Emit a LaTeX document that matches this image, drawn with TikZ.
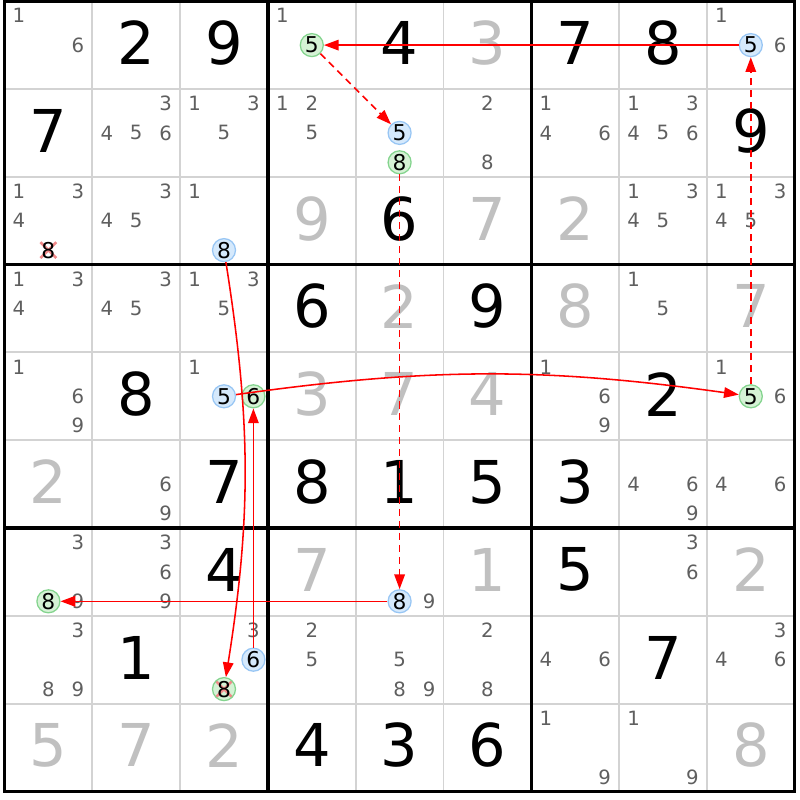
\documentclass[tikz,border=0pt]{standalone}
\usepackage{fontspec}
\setmainfont{DejaVu Sans}
\usetikzlibrary{arrows.meta}

\definecolor{gridgray}{HTML}{D3D3D3}
\definecolor{solvedgray}{HTML}{C0C0C0}
\definecolor{candgray}{HTML}{5F5F5F}
\definecolor{bluefill}{HTML}{D5E9FC}
\definecolor{bluering}{HTML}{98C6F4}
\definecolor{greenfill}{HTML}{D5F2D5}
\definecolor{greenring}{HTML}{84D48E}
\definecolor{xred}{HTML}{F08A8A}

\newcommand{\cand}[4][cand]{%
  \pgfmathsetmacro\candx{#3-0.835+0.335*mod(#4-1,3)}%
  \pgfmathsetmacro\candy{#2-0.835+0.335*div(#4-1,3)}%
  \node[#1] (r#2c#3n#4) at (\candx,\candy) {#4};}

\begin{document}
\begin{tikzpicture}[
		x=2.195cm, y=-2.195cm,
		gridline/.style={gridgray, line width=1.4pt},
		boxline/.style={black, line width=2.5pt},
		given/.style={font=\fontsize{42}{46}\selectfont, inner sep=0pt, yshift=1.5pt},
		solved/.style={given, text=solvedgray},
		cand/.style={circle, inner sep=0pt, minimum size=0.575cm, font=\fontsize{14}{16}\selectfont, text=candgray},
		bluecand/.style={cand, text=black, font=\fontsize{15.5}{17}\selectfont, draw=bluering, fill=bluefill, line width=0.9pt},
		greencand/.style={cand, text=black, font=\fontsize{15.5}{17}\selectfont, draw=greenring, fill=greenfill, line width=0.9pt},
		crossed/.style={path picture={
			\draw[xred, line width=1.8pt]
				([shift={(-0.09,-0.09)}]path picture bounding box.center) -- ([shift={(0.09,0.09)}]path picture bounding box.center)
				([shift={(-0.09,0.09)}]path picture bounding box.center) -- ([shift={(0.09,-0.09)}]path picture bounding box.center);}},
		elim/.style={cand, text=black, font=\fontsize{15.5}{17}\selectfont, fill=white, crossed},
		link/.style={red, line width=1.1pt, -{Triangle[length=10.5pt, width=7.5pt]}},
		weak/.style={link, dash pattern=on 5pt off 3.5pt},
	]
		\path[use as bounding box, fill=white] (-0.0513,-0.0137) rectangle (9.0604,9.0979);
	
		\foreach \i in {1,2,4,5,7,8} {
			\draw[gridline] (\i,0) -- (\i,9);
			\draw[gridline] (0,\i) -- (9,\i);
		}
		\foreach \i in {3,6} {
			\draw[boxline] (\i,0) -- (\i,9);
			\draw[boxline] (0,\i) -- (9,\i);
		}
		\draw[boxline] (0,0) rectangle (9,9);
		
		\foreach \row/\col/\d in {1/2/2, 1/3/9, 1/5/4, 1/7/7, 1/8/8, 2/1/7, 2/9/9, 3/5/6, 4/4/6, 4/6/9,
				5/2/8, 5/8/2, 6/3/7, 6/4/8, 6/5/1, 6/6/5, 6/7/3, 7/3/4, 7/7/5, 8/2/1, 8/8/7,
				9/4/4, 9/5/3, 9/6/6}
			\node[given] (g\row\col) at (\col-0.5,\row-0.5) {\d};
		\foreach \row/\col/\d in {1/6/3, 3/4/9, 3/6/7, 3/7/2, 4/5/2, 4/7/8, 4/9/7, 5/4/3, 5/5/7, 5/6/4,
				6/1/2, 7/4/7, 7/6/1, 7/9/2, 9/1/5, 9/2/7, 9/3/2, 9/9/8}
			\node[solved] (g\row\col) at (\col-0.5,\row-0.5) {\d};
		
		\foreach \row/\col/\ks in {1/1/{1,6}, 1/4/{1}, 1/9/{1,6},
				2/2/{3,4,5,6}, 2/3/{1,3,5}, 2/4/{1,2,5}, 2/6/{2,8}, 2/7/{1,4,6}, 2/8/{1,3,4,5,6},
				3/1/{1,3,4}, 3/2/{3,4,5}, 3/3/{1}, 3/8/{1,3,4,5}, 3/9/{1,3,4,5},
				4/1/{1,3,4}, 4/2/{3,4,5}, 4/3/{1,3,5}, 4/8/{1,5},
				5/1/{1,6,9}, 5/3/{1}, 5/7/{1,6,9}, 5/9/{1,6},
				6/2/{6,9}, 6/8/{4,6,9}, 6/9/{4,6},
				7/1/{3,9}, 7/2/{3,6,9}, 7/5/{9}, 7/8/{3,6},
				8/1/{3,8,9}, 8/3/{3}, 8/4/{2,5}, 8/5/{5,8,9}, 8/6/{2,8}, 8/7/{4,6}, 8/9/{3,4,6},
				9/7/{1,9}, 9/8/{1,9}}
			\foreach \k in \ks {\cand{\row}{\col}{\k}};
		
		\cand[greencand]{1}{4}{5}
		\cand[bluecand]{1}{9}{5}
		\cand[bluecand]{2}{5}{5}
		\cand[greencand]{2}{5}{8}
		\cand[elim]{3}{1}{8}
		\cand[bluecand]{3}{3}{8}
		\cand[bluecand]{5}{3}{5}
		\cand[greencand]{5}{3}{6}
		\cand[greencand]{5}{9}{5}
		\cand[greencand]{7}{1}{8}
		\cand[bluecand]{7}{5}{8}
		\cand[bluecand]{8}{3}{6}
		\cand[greencand, crossed]{8}{3}{8}
		
		\draw[link] (r1c9n5) -- (r1c4n5);
		\draw[weak] (r1c4n5) -- (r2c5n5);
		\draw[weak] (r2c5n8) -- (r7c5n8);
		\draw[link] (r7c5n8) -- (r7c1n8);
		\draw[link] (r3c3n8) to[bend left=9] (r8c3n8);
		\draw[link] (r8c3n6) -- (r5c3n6);
		\draw[link] (r5c3n5) to[bend left=8] (r5c9n5);
		\draw[weak] (r5c9n5) -- (r1c9n5);
	\end{tikzpicture}
\end{document}
